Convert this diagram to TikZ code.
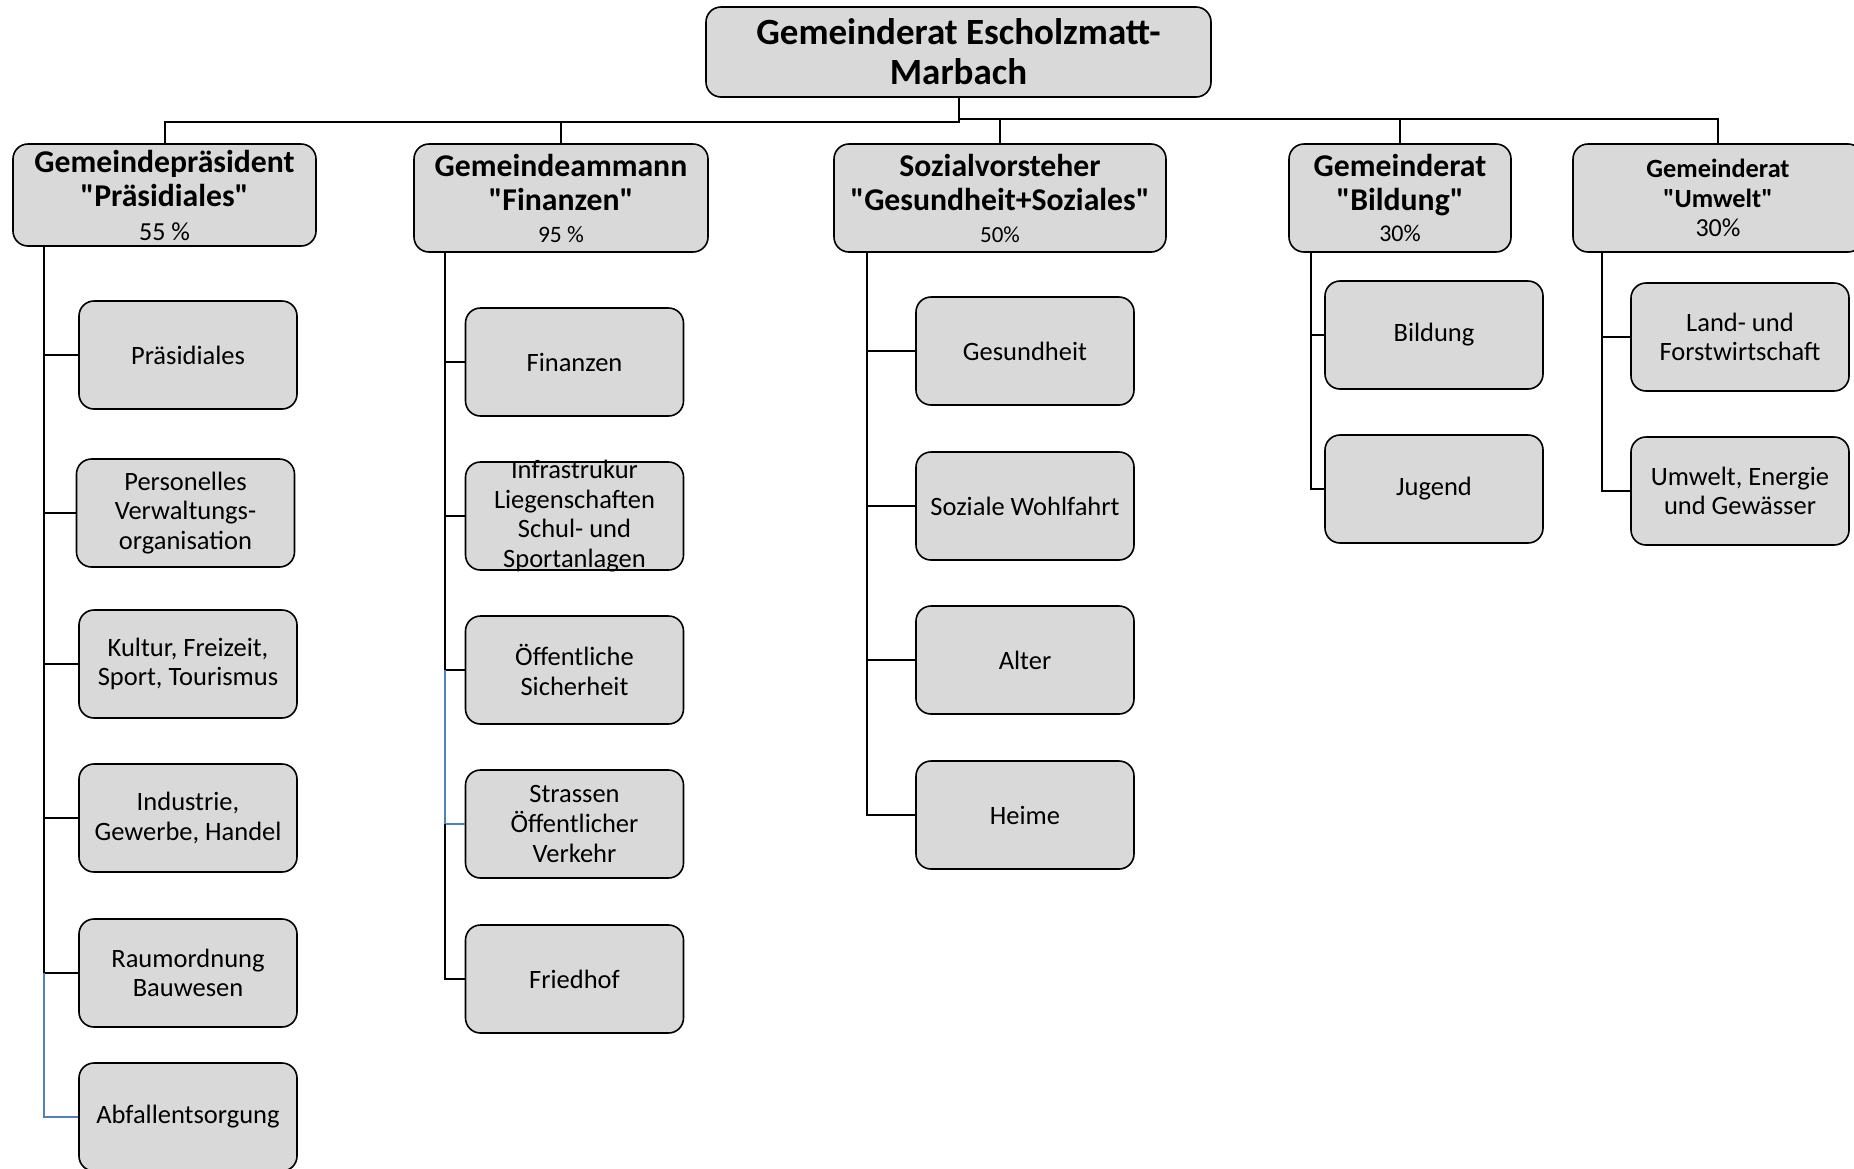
\documentclass[tikz,border=0pt]{standalone}
\usepackage{fontspec}
\setmainfont{Carlito}[Ligatures=TeXOff]
\definecolor{boxgray}{HTML}{D9D9D9}
\definecolor{linkblue}{HTML}{4F81BD}
\begin{document}
\begin{tikzpicture}[x=1pt,y=-1pt,
  box/.style={draw=black, line width=1.6pt, fill=boxgray, rounded corners=15pt, inner sep=0pt, align=center},
  leaf/.style={box, minimum width=218pt, minimum height=108pt, font=\fontsize{26.5}{29.6}\selectfont},
  head/.style={box, minimum height=108pt, font=\fontsize{31.7}{34}\selectfont\bfseries},
  link/.style={draw=black, line width=2pt},
  thinlink/.style={draw=black, line width=1.2pt},
  bluelink/.style={draw=linkblue, line width=2pt}]
\useasboundingbox (0,0) rectangle (1854,1168);

% top
\node[box, minimum width=505pt, minimum height=90pt, font=\fontsize{37}{40}\selectfont\bfseries] (top) at (958.5,52) {Gemeinderat Escholzmatt-\\Marbach};

% level 1
\node[head, minimum width=303pt, minimum height=102pt] (p) at (164.5,195) {Gemeindepräsident\\"Präsidiales"\\{\mdseries\fontsize{26}{26}\selectfont 55 \%}};
\node[head, minimum width=294pt] (f) at (561,198) {Gemeindeammann\\"Finanzen"\\[-2pt]{\mdseries\fontsize{23.5}{23.5}\selectfont 95 \%}};
\node[head, minimum width=332pt] (s) at (1000,198) {Sozialvorsteher\\"Gesundheit+Soziales"\\[-2pt]{\mdseries\fontsize{23}{23}\selectfont 50\%}};
\node[head, minimum width=222pt] (b) at (1400,198) {Gemeinderat\\"Bildung"\\[-3pt]{\mdseries\fontsize{24}{24}\selectfont 30\%}};
\node[head, minimum width=290pt, font=\fontsize{26.3}{29.6}\selectfont\bfseries] (u) at (1718,198) {Gemeinderat\\"Umwelt"\\{\mdseries\fontsize{26}{26}\selectfont 30\%}};

% column 1
\node[leaf] (pr) at (188,355) {Präsidiales};
\node[leaf] (pe) at (185.5,513) {Personelles\\Verwaltungs-\\organisation};
\node[leaf] (ku) at (188,664) {Kultur, Freizeit,\\Sport, Tourismus};
\node[leaf] (in) at (188,818) {Industrie,\\Gewerbe, Handel};
\node[leaf] (ra) at (188,973) {Raumordnung\\Bauwesen};
\node[leaf] (ab) at (188,1117) {Abfallentsorgung};

% column 2
\node[leaf] (fi) at (574.5,362) {Finanzen};
\node[leaf] (inf) at (574.5,516) {};
\node[font=\fontsize{26.5}{29.6}\selectfont, align=center, inner sep=0pt] (infT) at (inf.center) {Infrastrukur\\Liegenschaften\\Schul- und\\Sportanlagen};
\node[leaf] (si) at (574.5,670) {Öffentliche\\Sicherheit};
\node[leaf] (st) at (574.5,824) {Strassen\\Öffentlicher\\Verkehr};
\node[leaf] (fr) at (574.5,979) {Friedhof};

% column 3
\node[leaf] (ge) at (1025,351) {Gesundheit};
\node[leaf] (so) at (1025,506) {Soziale Wohlfahrt};
\node[leaf] (al) at (1025,660) {Alter};
\node[leaf] (he) at (1025,815) {Heime};

% column 4
\node[leaf] (bi) at (1434,335) {Bildung};
\node[leaf] (ju) at (1434,489) {Jugend};

% column 5
\node[leaf] (la) at (1740,337) {Land- und\\Forstwirtschaft};
\node[leaf] (um) at (1740,491) {Umwelt, Energie\\und Gewässer};

% bus
\coordinate (busL) at (0,122);
\coordinate (busR) at (0,119);
\draw[link] (top.south) -- (top.south |- busL) -| (p.north);
\draw[link] (top.south |- busL) -| (f.north);
\draw[link] (top.south |- busR) -| (s.north);
\draw[link] (top.south |- busR) -| (b.north);
\draw[link] (top.south |- busR) -| (u.north);

% column links
\coordinate (c1) at (44,0);
\coordinate (c2) at (445,0);
\coordinate (c3) at (867,0);
\coordinate (c4) at (1311,0);
\coordinate (c5) at (1602,0);

\foreach \n in {pr,pe,ku,in,ra} \draw[link] (p.south -| c1) |- (\n.west);
\draw[bluelink] (ra.west -| c1) |- (ab.west);

\draw[link] (f.south -| c2) |- (fi.west);
\draw[link] (f.south -| c2) |- (si.west);
\draw[thinlink] (inf.west -| c2) -- (inf.west);
\draw[bluelink] (si.west -| c2) |- (st.west);
\draw[link] (st.west -| c2) |- (fr.west);

\foreach \n in {ge,so,al,he} \draw[link] (s.south -| c3) |- (\n.west);
\foreach \n in {bi,ju} \draw[link] (b.south -| c4) |- (\n.west);
\foreach \n in {la,um} \draw[link] (u.south -| c5) |- (\n.west);
\end{tikzpicture}
\end{document}
